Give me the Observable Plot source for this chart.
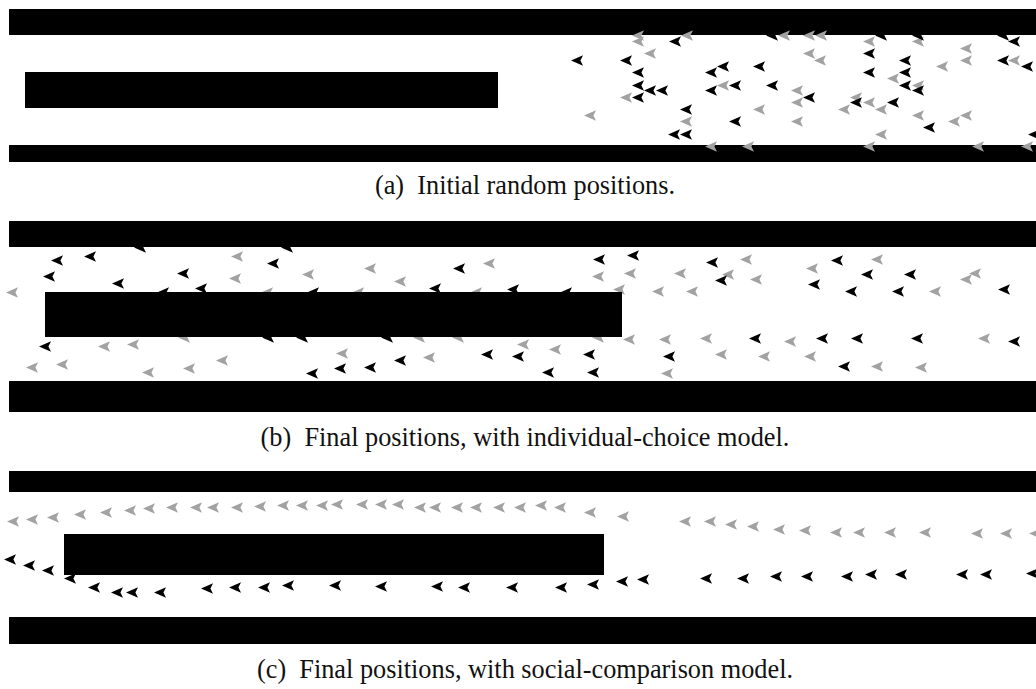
<!DOCTYPE html>
<html>
<head>
<meta charset="utf-8">
<script src="https://cdn.jsdelivr.net/npm/d3@7"></script>
<script src="https://cdn.jsdelivr.net/npm/@observablehq/plot@0.6"></script>
<style>
  html, body { margin: 0; padding: 0; background: #fff; }
  #figure { position: relative; width: 1036px; height: 689px; overflow: hidden; }
  .panel { position: absolute; left: 0; }
  .panel svg { display: block; }
  .cap {
    position: absolute; left: 7px; width: 1036px; text-align: center;
    font-family: "Liberation Serif", "Times New Roman", serif;
    font-size: 26.3px; line-height: 26px; color: #111; white-space: pre;
  }
</style>
</head>
<body>
<div id="figure"></div>
<script>
// Corridor scenes: walls, a central obstacle, and agents (arrowheads pointing
// in their walking direction). Coordinates are scene units, y grows downward.

// ---- (a) initial random positions ----
const wallsA = [[9, 1036, 9, 35], [9, 1036, 145, 162]];
const obstacleA = [[25, 498, 72, 108]];
const blackA = [
  [675,41],[772,35],[577,60],[626,60],[638,72],[638,85],[650,90],[662,90],[638,97],
  [686,109],[674,134],[686,134],[711,72],[723,66],[711,90],[735,85],[759,66],[772,85],
  [735,121],[881,35],[918,35],[1003,35],[1014,41],[869,53],[905,60],[869,72],[905,72],
  [905,85],[918,90],[1003,60],[1027,66],[809,97],[856,102],[893,102],[929,127],[1034,134]
];
const grayA = [
  [638,35],[638,41],[687,35],[784,35],[650,53],[626,97],[590,115],[686,121],[711,146],
  [748,146],[723,85],[759,109],[797,90],[797,102],[797,121],[809,35],[821,35],[918,41],
  [869,41],[809,53],[820,60],[893,78],[918,85],[942,66],[966,48],[966,60],[1014,60],
  [856,97],[869,102],[844,109],[881,109],[918,115],[954,121],[966,115],[881,134],
  [869,146],[978,146],[1027,146]
];

// ---- (b) final positions, individual-choice model ----
const wallsB = [[9, 1036, 11, 37], [9, 1036, 171, 202]];
const obstacleB = [[45, 622, 82, 127]];
const blackB = [
  [140,37],[287,37],[57,50],[90,46],[49,66],[118,73],[183,63],[273,53],[163,82],[201,78],
  [313,82],[45,136],[268,127],[302,127],[312,163],[340,158],[459,58],[599,49],[633,45],
  [435,78],[513,79],[566,82],[387,127],[370,157],[400,150],[487,144],[518,146],[589,144],
  [548,162],[593,162],[669,146],[712,52],[721,70],[837,50],[867,64],[910,64],[814,74],
  [851,81],[898,81],[1004,79],[755,128],[822,128],[857,128],[917,128],[1014,131],[844,156]
];
const grayB = [
  [237,46],[235,68],[308,64],[12,82],[267,82],[104,136],[133,134],[184,127],[32,157],
  [62,154],[148,162],[189,158],[222,150],[370,58],[489,53],[400,71],[358,82],[476,82],
  [598,66],[630,63],[619,79],[658,81],[419,127],[458,127],[598,127],[629,129],[665,129],
  [342,143],[429,147],[523,134],[555,139],[667,163],[746,49],[680,63],[728,64],[756,69],
  [692,81],[812,58],[877,49],[935,81],[975,63],[966,69],[706,128],[790,131],[984,128],
  [721,144],[764,146],[810,146],[877,156],[921,157]
];

// ---- (c) final positions, social-comparison model ----
const wallsC = [[9, 1036, 9, 30], [9, 1036, 155, 182]];
const obstacleC = [[64, 604, 72, 113]];
const blackC = [
  [10,97],[29,103],[48,108],[70,116],[94,125],[117,130],[132,130],[160,130],[207,126],
  [235,125],[264,125],[288,123],[335,123],[381,124],[437,124],[464,125],[512,125],
  [561,125],[593,122],[622,119],[643,117],[706,116],[743,116],[776,114],[807,114],
  [847,114],[871,112],[901,112],[962,112],[986,112],[1032,111]
];
const grayC = [
  [13,59],[32,57],[53,55],[80,52],[106,50],[130,48],[149,46],[172,45],[196,45],[213,45],
  [237,45],[260,44],[283,43],[302,43],[322,43],[337,42],[362,42],[381,42],[398,42],
  [420,45],[435,45],[457,45],[476,45],[499,45],[520,45],[541,43],[560,45],[590,50],
  [623,54],[685,59],[710,59],[731,62],[753,64],[779,67],[805,68],[836,70],[859,70],
  [890,70],[925,70],[977,71],[1006,71],[1035,71]
];

const captions = [
  "(a)  Initial random positions.",
  "(b)  Final positions, with individual-choice model.",
  "(c)  Final positions, with social-comparison model."
];

// Left-pointing arrowhead with a shallow notched tail.
const arrowhead = {
  draw(ctx, size) {
    const r = Math.sqrt(size / Math.PI);
    ctx.moveTo(-r, 0);
    ctx.lineTo(0.85 * r, -0.8 * r);
    ctx.lineTo(0.45 * r, 0);
    ctx.lineTo(0.85 * r, 0.8 * r);
    ctx.closePath();
  }
};

const toRects = (rows) => rows.map(([x1, x2, y1, y2]) => ({x1, x2, y1, y2}));
const toPts = (rows) => rows.map(([x, y]) => ({x, y}));

function scene({walls, obstacle, black, gray, height, agentsOnTop}) {
  const solid = [
    Plot.rect(toRects(walls), {x1: "x1", x2: "x2", y1: "y1", y2: "y2", fill: "#000"}),
    Plot.rect(toRects(obstacle), {x1: "x1", x2: "x2", y1: "y1", y2: "y2", fill: "#000"})
  ];
  const agents = [
    Plot.dot(toPts(gray), {x: "x", y: "y", r: 6.5, symbol: arrowhead, fill: "#a2a2a2", stroke: "none"}),
    Plot.dot(toPts(black), {x: "x", y: "y", r: 6.5, symbol: arrowhead, fill: "#000", stroke: "none"})
  ];
  return Plot.plot({
    width: 1036,
    height,
    margin: 0,
    style: {background: "transparent"},
    x: {domain: [0, 1036], range: [0, 1036], axis: null},
    y: {domain: [0, height], range: [0, height], axis: null},
    marks: agentsOnTop ? [...solid, ...agents] : [...agents, ...solid]
  });
}

const fig = document.getElementById("figure");
const panels = [
  {top: 0, capTop: 173, walls: wallsA, obstacle: obstacleA, black: blackA, gray: grayA, height: 165, agentsOnTop: true},
  {top: 210, capTop: 425, walls: wallsB, obstacle: obstacleB, black: blackB, gray: grayB, height: 205, agentsOnTop: false},
  {top: 462, capTop: 657, walls: wallsC, obstacle: obstacleC, black: blackC, gray: grayC, height: 185, agentsOnTop: false}
];
panels.forEach((p, i) => {
  const holder = document.createElement("div");
  holder.className = "panel";
  holder.style.top = p.top + "px";
  holder.appendChild(scene(p));
  fig.appendChild(holder);
  const cap = document.createElement("div");
  cap.className = "cap";
  cap.style.top = p.capTop + "px";
  cap.textContent = captions[i];
  fig.appendChild(cap);
});
</script>
</body>
</html>
